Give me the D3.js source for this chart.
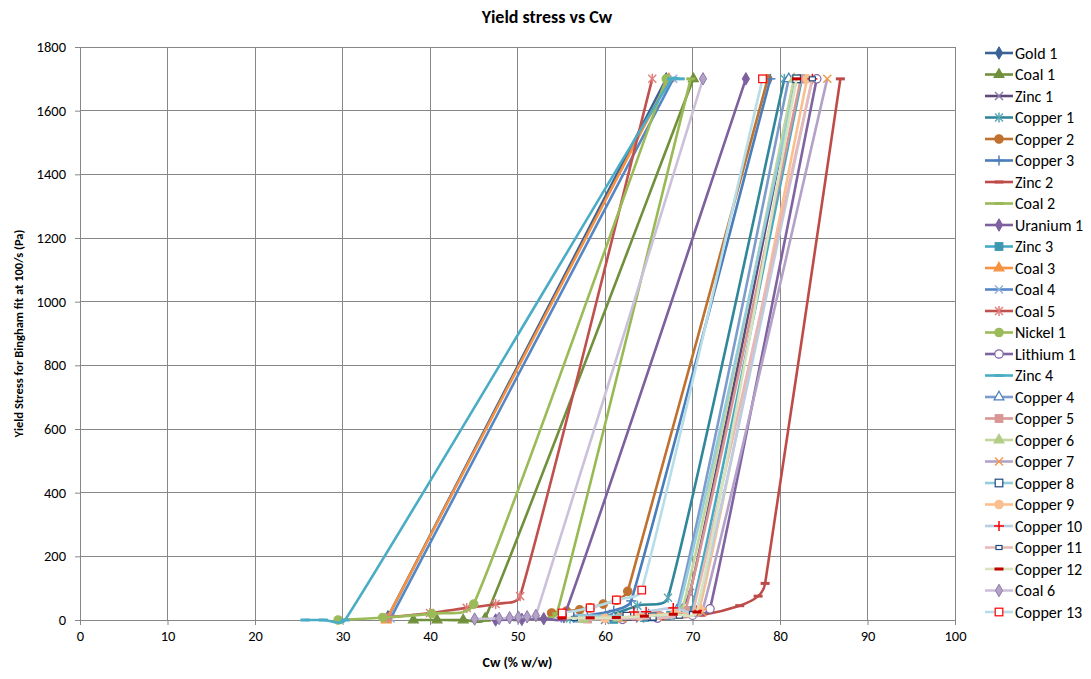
<!DOCTYPE html>
<html>
<head>
<meta charset="utf-8">
<script src="https://cdn.jsdelivr.net/npm/d3@7"></script>
<style>
  body { margin: 0; background: #fff; }
  svg text { font-family: Carlito, Lato, "Liberation Sans", sans-serif; fill: #000; }
</style>
</head>
<body>
<svg id="chart" width="1091" height="679"></svg>
<script>
// Yield stress vs Cw : données
const seriesNames = ["Gold 1", "Coal 1", "Zinc 1", "Copper 1", "Copper 2", "Copper 3", "Zinc 2",
    "Coal 2", "Uranium 1", "Zinc 3", "Coal 3", "Coal 4", "Coal 5", "Nickel 1", "Lithium 1",
    "Zinc 4", "Copper 4", "Copper 5", "Copper 6", "Copper 7", "Copper 8", "Copper 9",
    "Copper 10", "Copper 11", "Copper 12", "Coal 6", "Copper 13"];

const gold1 = [[35.2, 10], [67.0, 1700]];
const coal1 = [[38.1, 0], [40.8, 0], [43.8, 0], [46.3, 5], [70.1, 1700]];
const zinc1 = [[60, 0], [64, 5], [67, 12], [69.7, 85], [81.8, 1700]];
const copper1 = [[56, 5], [60, 12], [63.7, 45], [67.2, 70], [80.5, 1700]];
const copper2 = [[53.9, 22], [55.6, 28], [57.1, 32], [58.3, 38], [59.8, 50], [61.3, 62], [62.6, 90], [78.6, 1700]];
const copper3 = [[55, 8], [58, 15], [61, 30], [63, 60], [78.9, 1700]];
const zinc2 = [[62, 2], [67, 6], [71, 15], [75.4, 45], [77.5, 75], [78.3, 115], [86.9, 1700]];
const coal2 = [[50, 0], [53, 5], [54.5, 20], [69.8, 1700]];
const uranium1 = [[47.5, 0], [50.5, 2], [53, 4], [55.3, 10], [76.1, 1700]];
const zinc3 = [[61, 2], [64.5, 8], [67.5, 15], [69.9, 30], [82.5, 1700]];
const coal3 = [[35, 0], [67.3, 1700]];
const coal4 = [[35.5, 5], [67.8, 1700]];
const coal5 = [[35.2, 8], [40, 22], [44.2, 38], [47.5, 50], [50.3, 75], [65.4, 1700]];
const nickel1 = [[29.5, 0], [34.6, 8], [40.2, 20], [45, 50], [67.0, 1700]];
const lithium1 = [[62, 2], [66, 6], [70, 15], [72, 35], [84.2, 1700]];
const zinc4 = [[25.7, 0], [27.8, 0], [30.3, 0], [67.6, 1700], [68.6, 1700]];
const copper4 = [[57, 3], [61, 8], [65, 15], [68.2, 30], [81.0, 1700]];
const copper5 = [[58, 3], [62, 8], [66, 15], [69.2, 30], [82.4, 1700]];
const copper6 = [[57.5, 2], [61.5, 6], [65.5, 14], [68.8, 28], [81.6, 1700]];
const copper7 = [[62, 5], [66, 10], [68.5, 18], [71.1, 25], [85.4, 1700]];
const copper8 = [[56, 15], [62.5, 12], [65.4, 10], [68.3, 22], [81.9, 1700]];
const copper9 = [[60, 5], [64, 12], [68, 22], [70.8, 35], [83.1, 1700]];
const copper10 = [[63.3, 25], [64.7, 26], [67.8, 38], [70.5, 30], [83.7, 1700]];
const copper11 = [[56.5, 5], [65.5, 6], [68.5, 12], [70, 20], [83.7, 1700]];
const copper12 = [[55.1, 6], [58.3, 7], [61.3, 8], [64.5, 12], [67.8, 18], [70.5, 25], [81.9, 1700]];
const coal6 = [[45.1, 3], [47.9, 5], [49.1, 7], [50.1, 9], [51.1, 10], [52.1, 14], [71.2, 1700]];
const copper13 = [[55.1, 22], [58.3, 38], [61.3, 63], [64.2, 94], [78.0, 1700]];

const seriesValues = [gold1, coal1, zinc1, copper1, copper2, copper3, zinc2, coal2, uranium1, zinc3,
    coal3, coal4, coal5, nickel1, lithium1, zinc4, copper4, copper5, copper6, copper7, copper8,
    copper9, copper10, copper11, copper12, coal6, copper13];

const xTicks = [0, 10, 20, 30, 40, 50, 60, 70, 80, 90, 100];
const yTicks = [0, 200, 400, 600, 800, 1000, 1200, 1400, 1600, 1800];

// Styles : couleur de ligne, type de marqueur, couleurs du marqueur
const seriesStyles = [
    { line: "#3B6296", marker: "diamond", fill: "#3B6296", stroke: "#3B6296" },
    { line: "#71903C", marker: "triangle", fill: "#71903C", stroke: "#71903C" },
    { line: "#5F497A", marker: "x", fill: "none", stroke: "#8A7AA8" },
    { line: "#31879A", marker: "star", fill: "none", stroke: "#5AA6B8" },
    { line: "#C0712F", marker: "circle", fill: "#C0712F", stroke: "#C0712F" },
    { line: "#4A7EBB", marker: "plus", fill: "none", stroke: "#4A7EBB" },
    { line: "#BE4B48", marker: "dash", fill: "#BE4B48", stroke: "#BE4B48" },
    { line: "#98B954", marker: "dash", fill: "#98B954", stroke: "#98B954" },
    { line: "#7D60A0", marker: "diamond", fill: "#7D60A0", stroke: "#7D60A0" },
    { line: "#46AAC5", marker: "square", fill: "#3E97B0", stroke: "#3E97B0" },
    { line: "#F69240", marker: "triangle", fill: "#F69240", stroke: "#F69240" },
    { line: "#5587C6", marker: "x", fill: "none", stroke: "#8FB0DB" },
    { line: "#C0504D", marker: "star", fill: "none", stroke: "#E07E7B" },
    { line: "#9BBB59", marker: "circle", fill: "#9BBB59", stroke: "#9BBB59" },
    { line: "#8064A2", marker: "circle", fill: "#fff", stroke: "#8064A2" },
    { line: "#4BACC6", marker: "dash", fill: "#4BACC6", stroke: "#4BACC6" },
    { line: "#7E9CCB", marker: "triangle", fill: "#fff", stroke: "#4A7EBB" },
    { line: "#D99694", marker: "square", fill: "#D99694", stroke: "#D99694" },
    { line: "#C3D69B", marker: "triangle", fill: "#B3CC85", stroke: "#B3CC85" },
    { line: "#B3A2C7", marker: "x", fill: "none", stroke: "#F79646" },
    { line: "#93CDDD", marker: "square", fill: "#fff", stroke: "#1F497D" },
    { line: "#FABF8F", marker: "circle", fill: "#FABF8F", stroke: "#FABF8F" },
    { line: "#B9CDE5", marker: "plus", fill: "none", stroke: "#FF0000" },
    { line: "#E6B9B8", marker: "smallsquare", fill: "#fff", stroke: "#1F497D" },
    { line: "#D7E4BD", marker: "dash", fill: "#C00000", stroke: "#C00000" },
    { line: "#CCC1DA", marker: "diamond", fill: "#B3A2C7", stroke: "#8C7AA6" },
    { line: "#B7DEE8", marker: "square", fill: "#fff", stroke: "#FF0000" }
];

const svg = d3.select("#chart");
const margin = { left: 80, right: 136, top: 47, bottom: 59 };
const plotW = 1091 - margin.left - margin.right;
const plotH = 679 - margin.top - margin.bottom;

const x = d3.scaleLinear().domain([0, 100]).range([margin.left, margin.left + plotW]);
const y = d3.scaleLinear().domain([0, 1800]).range([margin.top + plotH, margin.top]);

// Titre
svg.append("text")
    .attr("x", 547).attr("y", 23)
    .attr("text-anchor", "middle")
    .style("font-size", "18px").style("font-weight", "bold")
    .text("Yield stress vs Cw");

// Quadrillage
const grid = svg.append("g");
grid.selectAll(".gx").data(xTicks).enter().append("line")
    .attr("x1", d => x(d)).attr("x2", d => x(d))
    .attr("y1", y(0)).attr("y2", y(1800))
    .attr("stroke", "#878787").attr("stroke-width", 1).attr("shape-rendering", "crispEdges");
grid.selectAll(".gy").data(yTicks).enter().append("line")
    .attr("x1", x(0)).attr("x2", x(100))
    .attr("y1", d => y(d)).attr("y2", d => y(d))
    .attr("stroke", "#878787").attr("stroke-width", 1).attr("shape-rendering", "crispEdges");

// Axes
const xAxis = svg.append("g")
    .attr("transform", `translate(0,${y(0)})`)
    .call(d3.axisBottom(x).tickValues(xTicks).tickFormat(d3.format("d")).tickSize(5).tickPadding(6));
const yAxis = svg.append("g")
    .attr("transform", `translate(${x(0)},0)`)
    .call(d3.axisLeft(y).tickValues(yTicks).tickFormat(d3.format("d")).tickSize(5).tickPadding(9));
[xAxis, yAxis].forEach(a => {
    a.select(".domain").attr("stroke", "#878787");
    a.selectAll(".tick line").attr("stroke", "#878787");
    a.selectAll("text").style("font-size", "14.5px").style("font-family", "Carlito, Lato, sans-serif");
});

svg.append("text")
    .attr("x", x(50)).attr("y", 667)
    .attr("text-anchor", "middle")
    .style("font-size", "14px").style("font-weight", "bold")
    .text("Cw (% w/w)");

svg.append("text")
    .attr("transform", `translate(23,${y(900)}) rotate(-90)`)
    .attr("text-anchor", "middle")
    .style("font-size", "12.5px").style("font-weight", "bold")
    .text("Yield Stress for Bingham fit at 100/s (Pa)");

// Dessin d'un marqueur
function drawMarker(g, type, cx, cy, st) {
    const s = 4;
    if (type === "diamond") {
        g.append("path").attr("d", d3.symbol(d3.symbolDiamond, 45)())
            .attr("transform", `translate(${cx},${cy})`)
            .attr("fill", st.fill).attr("stroke", st.stroke).attr("stroke-width", 1);
    } else if (type === "triangle") {
        g.append("path").attr("d", d3.symbol(d3.symbolTriangle, 42)())
            .attr("transform", `translate(${cx},${cy})`)
            .attr("fill", st.fill).attr("stroke", st.stroke).attr("stroke-width", 1.2);
    } else if (type === "circle") {
        g.append("circle").attr("cx", cx).attr("cy", cy).attr("r", 4.2)
            .attr("fill", st.fill).attr("stroke", st.stroke).attr("stroke-width", 1.2);
    } else if (type === "square") {
        g.append("rect").attr("x", cx - 3.8).attr("y", cy - 3.8).attr("width", 7.6).attr("height", 7.6)
            .attr("fill", st.fill).attr("stroke", st.stroke).attr("stroke-width", 1.2);
    } else if (type === "smallsquare") {
        g.append("rect").attr("x", cx - 3).attr("y", cy - 2).attr("width", 6).attr("height", 4)
            .attr("fill", st.fill).attr("stroke", st.stroke).attr("stroke-width", 1.2);
    } else if (type === "dash") {
        g.append("rect").attr("x", cx - 4.5).attr("y", cy - 1.5).attr("width", 9).attr("height", 3)
            .attr("fill", st.fill);
    } else {
        const segs = [];
        if (type === "x" || type === "star") segs.push([-s, -s, s, s], [-s, s, s, -s]);
        if (type === "star") segs.push([0, -s - 1, 0, s + 1]);
        if (type === "plus") segs.push([-s - 1, 0, s + 1, 0], [0, -s - 1, 0, s + 1]);
        segs.forEach(p => g.append("line")
            .attr("x1", cx + p[0]).attr("y1", cy + p[1]).attr("x2", cx + p[2]).attr("y2", cy + p[3])
            .attr("stroke", st.stroke).attr("stroke-width", 1.5));
    }
}

// Lissage façon tableur : Bézier dont les poignées sont limitées à 1/3 du segment
function smoothPath(values) {
    const pts = values.map(d => [x(d[0]), y(d[1])]);
    const p = d3.path();
    p.moveTo(pts[0][0], pts[0][1]);
    for (let i = 0; i < pts.length - 1; i++) {
        const p0 = pts[i - 1] || pts[i], p1 = pts[i], p2 = pts[i + 1], p3 = pts[i + 2] || pts[i + 1];
        const seg = Math.hypot(p2[0] - p1[0], p2[1] - p1[1]);
        const handle = (a, b) => {
            const dx = b[0] - a[0], dy = b[1] - a[1];
            const len = Math.hypot(dx, dy);
            if (len === 0) return [0, 0];
            const k = Math.min(len / 6, seg / 3) / len;
            return [dx * k, dy * k];
        };
        const h1 = handle(p0, p2), h2 = handle(p1, p3);
        p.bezierCurveTo(p1[0] + h1[0], p1[1] + h1[1], p2[0] - h2[0], p2[1] - h2[1], p2[0], p2[1]);
    }
    return p.toString();
}

const plot = svg.append("g");
seriesValues.forEach((values, i) => {
    const st = seriesStyles[i];
    const g = plot.append("g");
    g.append("path")
        .attr("d", smoothPath(values))
        .attr("fill", "none")
        .attr("stroke", st.line)
        .attr("stroke-width", 2.6)
        .attr("stroke-linejoin", "round");
    values.forEach(v => drawMarker(g, st.marker, x(v[0]), y(v[1]), st));
});

// Légende
const legend = svg.append("g");
seriesNames.forEach((name, i) => {
    const st = seriesStyles[i];
    const ly = 53 + i * 21.5;
    const item = legend.append("g");
    item.append("line")
        .attr("x1", 985).attr("x2", 1013).attr("y1", ly).attr("y2", ly)
        .attr("stroke", st.line).attr("stroke-width", 2.6);
    drawMarker(item, st.marker, 999, ly, st);
    item.append("text")
        .attr("x", 1015).attr("y", ly + 5.5)
        .style("font-size", "16px")
        .text(name);
});
</script>
</body>
</html>
